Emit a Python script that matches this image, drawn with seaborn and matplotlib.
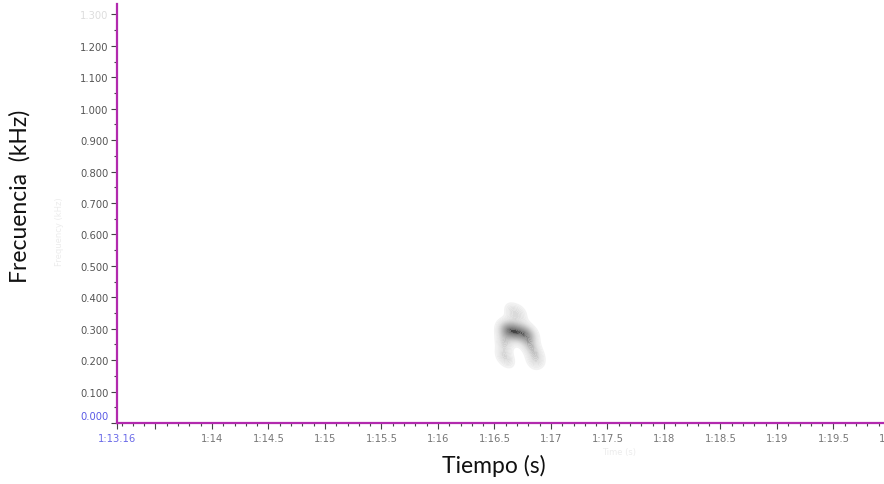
import numpy as np
import pandas as pd
import matplotlib
matplotlib.use("Agg")
import matplotlib.pyplot as plt
import matplotlib.transforms as mtransforms
import seaborn as sns
from matplotlib.ticker import FixedLocator, MultipleLocator

# ---- data ----
blob_time = [76.655, 76.727, 76.59, 76.63, 76.67, 76.72, 76.77, 76.815, 76.585, 76.575, 76.80, 76.85, 76.885, 76.62, 76.84]
blob_freq = [0.354, 0.348, 0.290, 0.295, 0.292, 0.290, 0.285, 0.280, 0.255, 0.215, 0.250, 0.230, 0.205, 0.200, 0.195]
blob_weight = [0.5, 0.4, 1.0, 1.3, 1.5, 1.4, 1.2, 0.9, 0.7, 0.5, 0.7, 0.6, 0.4, 0.35, 0.35]

x_start = 73.16
x_end = 80.0
y_max = 1.333
x_major = [73.5, 74.0, 74.5, 75.0, 75.5, 76.0, 76.5, 77.0, 77.5, 78.0, 78.5, 79.0, 79.5, 80.0]
y_major = [0.0, 0.1, 0.2, 0.3, 0.4, 0.5, 0.6, 0.7, 0.8, 0.9, 1.0, 1.1, 1.2, 1.3]

df = pd.DataFrame({"t": blob_time, "f": blob_freq, "w": blob_weight})

sns.set_style("white")
plt.rcParams["font.family"] = ["DejaVu Sans"]

W, H = 884, 485
fig = plt.figure(figsize=(W / 100, H / 100), dpi=100)
ax = fig.add_axes([117 / W, (H - 424) / H, (890 - 117) / W, (424 - 5) / H])

blob_cmap = sns.blend_palette(["#f4f4f4", "#9a9a9a", "#404040"], as_cmap=True)
sns.kdeplot(data=df, x="t", y="f", weights="w", fill=True, cmap=blob_cmap,
            levels=30, thresh=0.05, bw_adjust=0.75, ax=ax, antialiased=True)

ax.set_xlim(x_start, x_end)
ax.set_ylim(0, y_max)
ax.set_xlabel("")
ax.set_ylabel("")

spine_col = "#b22aae"
for s in ["top", "right"]:
    ax.spines[s].set_visible(False)
for s in ["left", "bottom"]:
    ax.spines[s].set_visible(True)
    ax.spines[s].set_color(spine_col)
    ax.spines[s].set_linewidth(1.6)

# x ticks
def fmt_time(v):
    m = int(v // 60)
    s = v - 60 * m
    if abs(s - round(s)) < 1e-6:
        return f"{m}:{int(round(s))}"
    return f"{m}:{s:g}"

ax.xaxis.set_major_locator(FixedLocator([x_start] + x_major))
labels = ["1:13.16"] + ["" if v == 73.5 else fmt_time(v) for v in x_major]
ax.set_xticklabels(labels)
ax.xaxis.set_minor_locator(MultipleLocator(0.1))
ax.tick_params(axis="x", which="major", direction="out", length=4, width=0.8,
               color="#444444", labelsize=7.2, labelcolor="#777777", pad=3, bottom=True)
ax.tick_params(axis="x", which="minor", direction="out", length=2, width=0.8,
               color="#444444", bottom=True)
ax.get_xticklabels()[0].set_color("#6a6ae8")

# y ticks
ax.yaxis.set_major_locator(FixedLocator(y_major))
ax.set_yticklabels([f"{v:.3f}" for v in y_major])
ax.yaxis.set_minor_locator(MultipleLocator(0.05))
ax.tick_params(axis="y", which="major", direction="out", length=4, width=0.8,
               color="#444444", labelsize=7.2, labelcolor="#555555", pad=2, left=True)
ax.tick_params(axis="y", which="minor", direction="out", length=2, width=0.8,
               color="#444444", left=True)
ylabs = ax.get_yticklabels()
ylabs[0].set_color("#5a5ae6")
ylabs[0].set_transform(ylabs[0].get_transform() + mtransforms.ScaledTranslation(0, 8 / 100, fig.dpi_scale_trans))
ylabs[-1].set_color("#dddddd")

# faint original labels
fig.text(60 / W, 1 - 232 / H, "Frequency (kHz)", rotation=90, ha="center", va="center",
         fontsize=6, color="#ececec")
fig.text(619 / W, 1 - 453 / H, "Time (s)", ha="center", va="center",
         fontsize=6, color="#ececec")

# main labels
fig.text(20 / W, 1 - 196 / H, "Frecuencia  (kHz)", rotation=90, ha="center", va="center",
         fontsize=16.5, color="#111111", family=["Lato", "DejaVu Sans"])
fig.text(494 / W, 1 - 466 / H, "Tiempo (s)", ha="center", va="center",
         fontsize=16.5, color="#111111", family=["Lato", "DejaVu Sans"])

fig.savefig("out.png", dpi=100)
